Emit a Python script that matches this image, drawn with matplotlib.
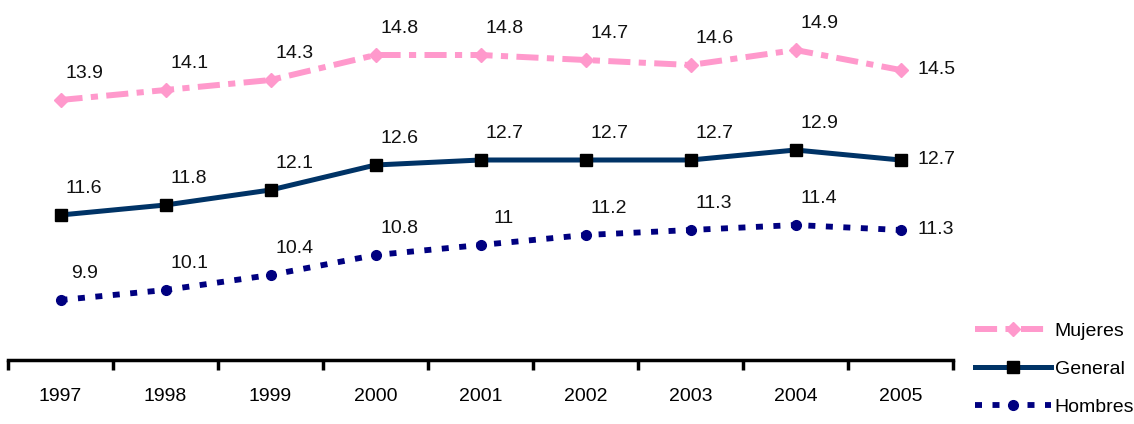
import matplotlib
matplotlib.use("Agg")
import matplotlib.pyplot as plt
from matplotlib import font_manager
import numpy as np

years = ["1997", "1998", "1999", "2000", "2001", "2002", "2003", "2004", "2005"]
mujeres = [13.9, 14.1, 14.3, 14.8, 14.8, 14.7, 14.6, 14.9, 14.5]
general = [11.6, 11.8, 12.1, 12.6, 12.7, 12.7, 12.7, 12.9, 12.7]
hombres = [9.9, 10.1, 10.4, 10.8, 11.0, 11.2, 11.3, 11.4, 11.3]

# narrow face if there is one, else plain Liberation Sans
fam = 'Liberation Sans'
fsize = 14
try:
    font_manager.findfont('Liberation Sans Narrow', fallback_to_default=False)
    fam = 'Liberation Sans Narrow'
    fsize = 16
except Exception:
    pass
plt.rcParams['font.family'] = [fam, 'DejaVu Sans']

fig = plt.figure(figsize=(11.34, 4.24), dpi=100)
ax = fig.add_axes([8 / 1134, 64 / 424, 945 / 1134, 360 / 424])

x = np.arange(len(years))

ax.plot(x, mujeres, color='#ff99cc', lw=4.3, linestyle=(0, (3.7, 1.4, 1.2, 1.4)),
        marker='D', ms=7, mfc='#ff99cc', mec='#ff99cc', label='Mujeres')
ax.plot(x, general, color='#003366', lw=3.6, linestyle='-',
        marker='s', ms=8, mfc='black', mec='black', label='General')
ax.plot(x, hombres, color='#000080', lw=4.2, linestyle=(0, (1.2, 1.8)),
        marker='o', ms=7, mfc='#000080', mec='#000080', label='Hombres')

# value labels
for serie in (mujeres, general, hombres):
    for i, v in enumerate(serie):
        lab = f"{v:g}"
        if i < len(serie) - 1:
            ax.annotate(lab, (x[i], v), xytext=(17, 19), textcoords='offset points',
                        ha='center', va='center', fontsize=fsize, color='#111111')
        else:
            ax.annotate(lab, (x[i], v), xytext=(12, 0), textcoords='offset points',
                        ha='left', va='center', fontsize=fsize, color='#111111')

ax.set_xlim(-0.5, len(years) - 0.5)
ax.set_ylim(8.7, 15.9)

for s in ('top', 'right', 'left'):
    ax.spines[s].set_visible(False)
ax.spines['bottom'].set_linewidth(2.5)
ax.spines['bottom'].set_color('black')
ax.set_yticks([])

ax.set_xticks(x)
ax.set_xticklabels(years, fontsize=fsize)
ax.tick_params(axis='x', which='major', length=0, pad=20)
ax.set_xticks(np.arange(-0.5, len(years), 1.0), minor=True)
ax.tick_params(axis='x', which='minor', length=7, width=2.5, color='black')

fig.legend(loc='center left', bbox_to_anchor=(975 / 1134, 55 / 424), frameon=False,
           fontsize=fsize, handlelength=3.9, labelspacing=1.05, handletextpad=0.2,
           borderpad=0, borderaxespad=0)

fig.savefig("out.png", dpi=100)
